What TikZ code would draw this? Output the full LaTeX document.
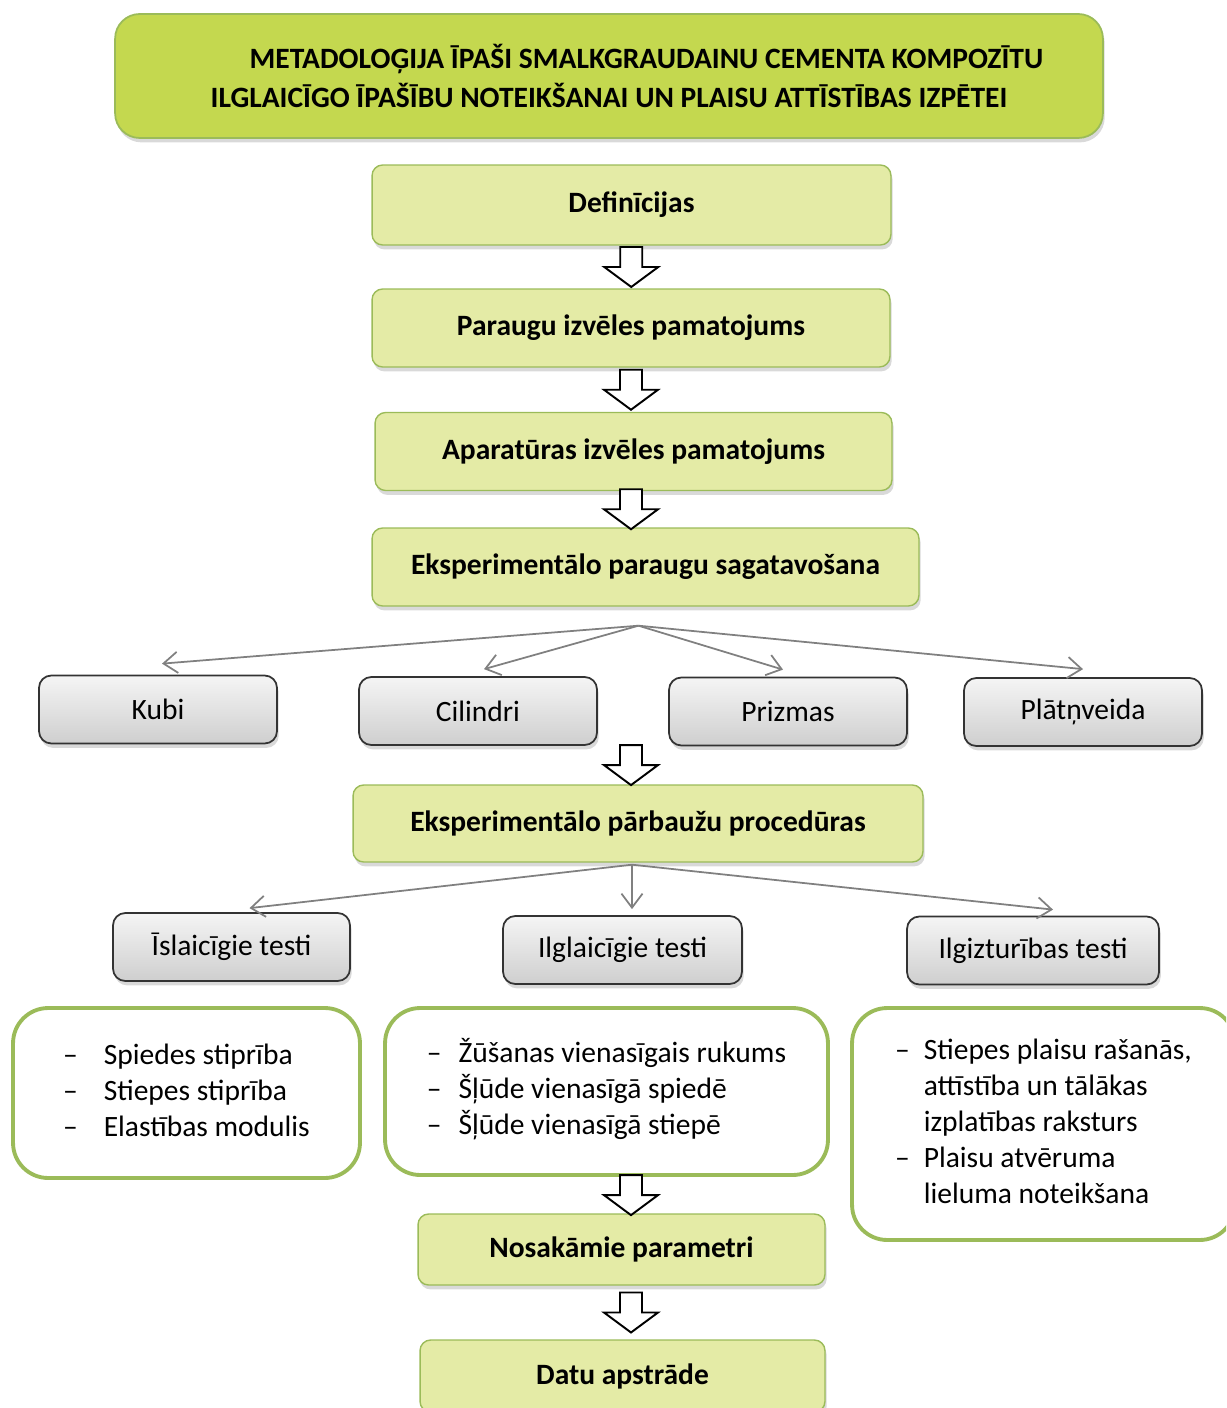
\documentclass[tikz,border=0pt]{standalone}
\usepackage{fontspec}
\setmainfont{Carlito}
\usepackage{tikz}
\usetikzlibrary{calc,shadows,arrows.meta}

\definecolor{verdetit}{RGB}{196,216,79}
\definecolor{verdepaso}{RGB}{228,235,166}
\definecolor{bordeverde}{RGB}{155,187,89}
\definecolor{grisflecha}{RGB}{128,128,128}

\begin{document}
\begin{tikzpicture}[
        x=0.02cm, y=-0.02cm,
        every node/.style={align=center, font=\fontsize{16.8}{20}\selectfont},
        sombra/.style={drop shadow={shadow xshift=1pt, shadow yshift=-2.5pt, opacity=0.3}},
        titulo/.style={rectangle, rounded corners=14pt, draw=bordeverde, line width=1pt, fill=verdetit, sombra,
            font=\fontsize{16.8}{22}\selectfont\bfseries, minimum width=19.76cm, minimum height=2.48cm},
        paso/.style={rectangle, rounded corners=6pt, draw=bordeverde, line width=0.8pt, fill=verdepaso, sombra,
            font=\fontsize{16.8}{20}\selectfont\bfseries, minimum height=1.56cm},
        tipo/.style={rectangle, rounded corners=7pt, draw=black!80, line width=1pt, top color=gray!8, bottom color=gray!38, sombra,
            minimum width=4.76cm, minimum height=1.36cm},
        lista/.style={rectangle, rounded corners=20pt, draw=bordeverde, line width=2.2pt, fill=white,
            font=\fontsize{16.8}{20.5}\selectfont},
        abanico/.style={draw=grisflecha, line width=1pt, -{Straight Barb[length=8pt, width=12pt]}},
        pics/hueca/.style={code={
            \draw[line width=1.1pt, fill=white, line join=miter]
                (-11,-20) -- (11,-20) -- (11,0) -- (27,0) -- (0,20) -- (-27,0) -- (-11,0) -- cycle;}}
        ]
        \useasboundingbox (0,0) rectangle (1226,1408);
        \clip (0,0) rectangle (1226,1408);

        % Título
        \node[titulo] (tit) at (609,76) {\hspace*{1.5cm}METADOLOĢIJA ĪPAŠI SMALKGRAUDAINU CEMENTA KOMPOZĪTU\\ILGLAICĪGO ĪPAŠĪBU NOTEIKŠANAI UN PLAISU ATTĪSTĪBAS IZPĒTEI};

        % Pasos del método
        \node[paso, minimum width=10.38cm, minimum height=1.6cm] (def) at (631.5,205) {Definīcijas};
        \node[paso, minimum width=10.36cm] (par) at (631,328) {Paraugu izvēles pamatojums};
        \node[paso, minimum width=10.34cm] (apa) at (633.5,451.5) {Aparatūras izvēles pamatojums};
        \node[paso, minimum width=10.94cm] (sag) at (645.5,567) {Eksperimentālo paraugu sagatavošana};

        % Tipos de probetas
        \node[tipo] (kubi) at (158,709.5) {Kubi};
        \node[tipo] (cil) at (478,711) {Cilindri};
        \node[tipo] (pri) at (788,711.5) {Prizmas};
        \node[tipo] (pla) at (1083,712) {Plātņveida};

        \node[paso, minimum width=11.4cm, minimum height=1.54cm] (parb) at (638,823.5) {Eksperimentālo pārbaužu procedūras};

        % Tipos de ensayos
        \node[tipo, minimum width=4.74cm] (isl) at (231.5,947) {Īslaicīgie testi};
        \node[tipo, minimum width=4.78cm] (ilg) at (622.5,950) {Ilglaicīgie testi};
        \node[tipo, minimum width=5.04cm] (izt) at (1033,950.5) {Ilgizturības testi};

        % Listas de parámetros
        \node[lista, minimum width=6.94cm, minimum height=3.4cm] (lis1) at (186.5,1093)
            {\begin{tabular}{@{}l@{\hspace{0.52cm}}l@{}}
             – & Spiedes stiprība\\
             – & Stiepes stiprība\\
             – & Elastības modulis
             \end{tabular}};
        \node[lista, minimum width=8.86cm, minimum height=3.34cm] (lis2) at (606.5,1091.5)
            {\begin{tabular}{@{}l@{\hspace{0.34cm}}l@{}}
             – & Žūšanas vienasīgais rukums\\
             – & Šļūde vienasīgā spiedē\\
             – & Šļūde vienasīgā stiepē
             \end{tabular}};
        \node[lista, minimum width=7.66cm, minimum height=4.64cm] (lis3) at (1043.5,1124)
            {\begin{tabular}{@{}l@{\hspace{0.28cm}}l@{}}
             – & Stiepes plaisu rašanās,\\
               & attīstība un tālākas\\
               & izplatības raksturs\\
             – & Plaisu atvēruma\\
               & lieluma noteikšana
             \end{tabular}};

        \node[paso, minimum width=8.14cm, minimum height=1.42cm] (nos) at (621.5,1249.5) {Nosakāmie parametri};
        \node[paso, minimum width=8.1cm, minimum height=1.44cm] (datu) at (622.5,1376) {Datu apstrāde};

        % Flechas huecas
        \coordinate (eje) at (631,0);
        \pic at ($(def.south)!.5!(par.north)$) {hueca};
        \pic at ($(par.south -| eje)!.5!(apa.north -| eje)$) {hueca};
        \pic at ($(apa.south -| eje)!.5!(sag.north -| eje)$) {hueca};
        \pic at ($(cil.south -| eje)!.5!(parb.north -| eje)$) {hueca};
        \pic at ($(lis2.south -| eje)!.5!(nos.north -| eje)$) {hueca};
        \pic at ($(nos.south -| eje)!.5!(datu.north -| eje)$) {hueca};

        % Conexiones en abanico
        \coordinate (ab1) at ($(sag.south)+(-7,19)$);
        \draw[abanico] (ab1) -- ($(kubi.north)+(4,-11)$);
        \draw[abanico] (ab1) -- ($(cil.north)+(6,-7)$);
        \draw[abanico] (ab1) -- ($(pri.north)+(-5,-7)$);
        \draw[abanico] (ab1) -- ($(pla.north)+(0,-8)$);

        \coordinate (ab2) at ($(parb.south)+(-6,2)$);
        \draw[abanico] (ab2) -- ($(isl.north)+(18,-4)$);
        \draw[abanico] (ab2) -- ($(ilg.north)+(9.5,-6)$);
        \draw[abanico] (ab2) -- ($(izt.north)+(20,-6)$);
\end{tikzpicture}
\end{document}
